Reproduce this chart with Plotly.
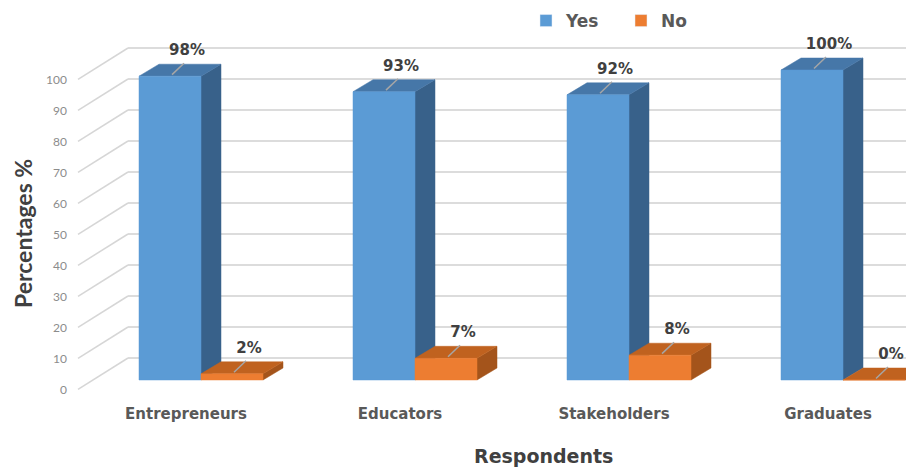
import plotly.graph_objects as go

# ---- data ----
categories = ["Entrepreneurs", "Educators", "Stakeholders", "Graduates"]
yes_values = [98, 93, 92, 100]
no_values = [2, 7, 8, 0]
series_names = ["Yes", "No"]
y_ticks = [0, 10, 20, 30, 40, 50, 60, 70, 80, 90, 100]

# ---- styling / geometry (pixel -> axis unit helpers) ----
PXX = 1 / 214.0   # x units per pixel
PXY = 1 / 3.1     # y units per pixel
BW = 62 * PXX     # bar width
DX, DY = 20 * PXX, 12 * PXY          # bar depth offset
BACK_DY = 22 * PXY                    # back wall offset (y)
LABEL_DY = -3.0                       # front tick-label plane offset (y)
X_LABEL_PLANE = -123 * PXX
X_BACK = -73 * PXX
X_MIN, X_MAX = -125 * PXX, 713 * PXX
Y_MIN, Y_MAX = -20 * PXY, 350 * PXY

OFF = 8                     # page body margin
W, H = 914 - OFF, 467 - OFF
RL, RT, RR, RB = 76, 30, 914, 400   # plot area in page pixels
ML, MT = RL - OFF, RT - OFF
MR, MB = 0, H - (RB - OFF)
PW, PH = RR - RL, RB - RT

colors = {
    "Yes": {"front": "#5B9BD5", "top": "#4677A8", "side": "#38618A"},
    "No": {"front": "#ED7D31", "top": "#C0621F", "side": "#A4541B"},
}
BOLD_FONT = "DejaVu Sans"

fig = go.Figure()

# back-wall gridlines and diagonals
gx, gy, dxs, dys = [], [], [], []
for v in y_ticks:
    gx += [X_BACK, X_MAX, None]
    gy += [v + BACK_DY, v + BACK_DY, None]
    dxs += [X_LABEL_PLANE, X_BACK, None]
    dys += [v + LABEL_DY, v + BACK_DY, None]
fig.add_trace(go.Scatter(x=gx, y=gy, mode="lines", line=dict(color="#DCDCDC", width=2),
                         hoverinfo="skip", showlegend=False))
fig.add_trace(go.Scatter(x=dxs, y=dys, mode="lines", line=dict(color="#D6D6D6", width=1.5),
                         hoverinfo="skip", showlegend=False))

def polys(s_idx, values, face):
    xs, ys = [], []
    for i, v in enumerate(values):
        x0 = i - BW + s_idx * BW
        x1 = x0 + BW
        if face == "front":
            px, py = [x0, x1, x1, x0, x0], [0, 0, v, v, 0]
        elif face == "top":
            px, py = [x0, x1, x1 + DX, x0 + DX, x0], [v, v, v + DY, v + DY, v]
        else:
            px, py = [x1, x1 + DX, x1 + DX, x1, x1], [0, DY, v + DY, v, 0]
        xs += px + [None]
        ys += py + [None]
    return xs, ys

for s_idx, (name, vals) in enumerate(zip(series_names, [yes_values, no_values])):
    for face in ["side", "top", "front"]:
        xs, ys = polys(s_idx, vals, face)
        c = colors[name][face]
        fig.add_trace(go.Scatter(x=xs, y=ys, mode="lines", fill="toself", fillcolor=c,
                                 line=dict(color=c, width=0.5), hoverinfo="skip",
                                 showlegend=False))

# leader lines and data labels
lx, ly, tx, ty, tt = [], [], [], [], []
for s_idx, vals in enumerate([yes_values, no_values]):
    for i, v in enumerate(vals):
        xc = i - BW + s_idx * BW + BW / 2
        lx += [xc + 2 * PXX, xc + 14 * PXX, None]
        ly += [v + 0.5, v + 4.2, None]
        tx.append(xc + 17 * PXX)
        ty.append(v + 8.0)
        tt.append(f"{v}%")
fig.add_trace(go.Scatter(x=lx, y=ly, mode="lines", line=dict(color="#A6A6A6", width=1.5),
                         hoverinfo="skip", showlegend=False))
fig.add_trace(go.Scatter(x=tx, y=ty, mode="text", text=tt,
                         textfont=dict(family=BOLD_FONT, size=15, color="#404040", weight="bold"),
                         hoverinfo="skip", showlegend=False, cliponaxis=False))

# legend entries
for name in series_names:
    fig.add_trace(go.Bar(x=[None], y=[None], name=name, marker_color=colors[name]["front"]))

fig.update_layout(
    width=W, height=H,
    margin=dict(l=ML, r=MR, t=MT, b=MB, autoexpand=False),
    paper_bgcolor="white", plot_bgcolor="white",
    font=dict(family="Lato", color="#595959"),
    showlegend=True,
    legend=dict(orientation="h", x=(526 - RL) / PW, xanchor="left",
                y=1 + (RT - 3) / PH, yanchor="top",
                font=dict(family=BOLD_FONT, size=17, color="#595959", weight="bold"),
                itemwidth=30, entrywidth=50, bgcolor="rgba(0,0,0,0)"),
    xaxis=dict(range=[X_MIN, X_MAX], showgrid=False, zeroline=False, showline=False,
               automargin=False, ticklabelstandoff=3,
               tickmode="array", tickvals=[i - 15 * PXX for i in range(len(categories))],
               ticktext=categories, ticks="",
               tickfont=dict(family=BOLD_FONT, size=15, color="#595959", weight="bold")),
    yaxis=dict(range=[Y_MIN, Y_MAX], showgrid=False, zeroline=False, showline=False,
               automargin=False,
               tickmode="array", tickvals=[v + LABEL_DY for v in y_ticks],
               ticktext=[str(v) for v in y_ticks], ticks="", ticklabelstandoff=8,
               tickfont=dict(family="Lato", size=12, color="#8C8C8C")),
    annotations=[
        dict(text="Respondents", xref="paper", yref="paper",
             x=(543 - RL) / PW, y=-(456 - RB) / PH, xanchor="center", yanchor="middle",
             showarrow=False, font=dict(family=BOLD_FONT, size=19, color="#404040", weight="bold")),
        dict(text="Percentages %", xref="paper", yref="paper", textangle=-90,
             x=-(RL - 23) / PW, y=1 - (234 - RT) / PH, xanchor="center", yanchor="middle",
             showarrow=False, font=dict(family="Lato", size=23, color="#404040", weight="bold")),
    ],
)

fig.write_html("out.html")
